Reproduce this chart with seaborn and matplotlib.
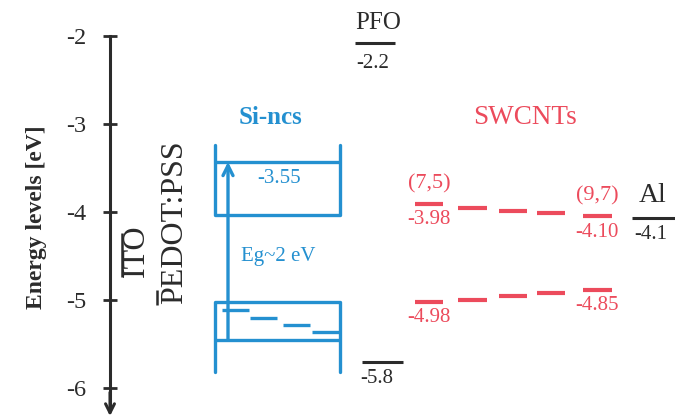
import numpy as np
import matplotlib
matplotlib.use("Agg")
import matplotlib.pyplot as plt
import seaborn as sns

# energy levels (eV): drawn positions and printed labels
axis_ticks = [-2, -3, -4, -5, -6]

pfo_level, pfo_label = -2.08, "-2.2"
hole_level, hole_label = -5.70, "-5.8"
al_level, al_label = -4.07, "-4.1"

si_top_open = -3.24
si_cb_edge = -3.43
si_cb_floor = -4.03
si_vb_roof = -5.02
si_vb_edge = -5.45
si_bottom_open = -5.82
si_states = [-5.11, -5.20, -5.28, -5.36]
si_cb_label = "-3.55"
si_gap_label = "Eg~2 eV"

swcnt_lumo = [-3.91, -3.95, -3.99, -4.01, -4.05]
swcnt_homo = [-5.02, -5.00, -4.95, -4.92, -4.89]
swcnt_lumo_labels = ["-3.98", "-4.10"]
swcnt_homo_labels = ["-4.98", "-4.85"]
swcnt_chirality = ["(7,5)", "(9,7)"]

ito_span = [-4.24, -4.74]
pedot_span = [-4.89, -5.06]

BLUE = "#2490d0"
RED = "#ec4b5c"
DARK = "#2b2b2b"
SERIF = ["Liberation Serif", "DejaVu Serif"]

sns.set_theme(style="white")
plt.rcParams["font.family"] = SERIF

fig = plt.figure(figsize=(6.75, 4.17), dpi=100)
ax = fig.add_axes([0, 0, 1, 1])
ax.set_xlim(0, 675)
ax.set_ylim(-6.33, -1.59)

# energy axis
for s in ["top", "right", "bottom"]:
    ax.spines[s].set_visible(False)
ax.spines["left"].set_position(("data", 110))
ax.spines["left"].set_bounds(-6.2, -2)
ax.spines["left"].set_linewidth(2.2)
ax.spines["left"].set_color(DARK)
ax.set_xticks([])
ax.set_yticks(axis_ticks)
ax.set_yticklabels([str(t) for t in axis_ticks])
ax.tick_params(axis="y", direction="inout", length=10, width=2, colors=DARK,
               labelsize=17.5, labelfontfamily="Liberation Serif", pad=12, left=True)
ax.annotate("", xy=(110, -6.32), xytext=(110, -6.05),
            arrowprops=dict(arrowstyle="->", lw=2.2, color=DARK,
                            mutation_scale=16, shrinkA=0, shrinkB=0))
ax.set_ylabel("Energy levels [eV]", fontsize=17, fontweight="bold", color=DARK)
ax.yaxis.set_label_coords(0.07, 0.48)

# ITO and PEDOT:PSS
ax.vlines(122, ito_span[1], ito_span[0], color=DARK, lw=1.8)
ax.text(136, ito_span[1], "ITO", rotation=90, ha="center", va="bottom",
        fontsize=23, color=DARK)
ax.vlines(157, pedot_span[1], pedot_span[0], color=DARK, lw=1.8)
ax.text(175, pedot_span[1] + 0.02, "PEDOT:PSS", rotation=90, ha="center",
        va="bottom", fontsize=23, color=DARK)

# PFO and the lower black level
ax.hlines(pfo_level, 355, 395, color=DARK, lw=2.2)
ax.text(378, pfo_level + 0.1, "PFO", ha="center", va="bottom", fontsize=18, color=DARK)
ax.text(373, pfo_level - 0.12, pfo_label, ha="center", va="top", fontsize=15, color=DARK)
ax.hlines(hole_level, 362, 403, color=DARK, lw=2.2)
ax.text(377, hole_level - 0.08, hole_label, ha="center", va="top", fontsize=15, color=DARK)

# Si nanocrystals
xl, xr = 215, 340
ax.plot([xl, xl, xr, xr], [si_top_open, si_cb_floor, si_cb_floor, si_top_open],
        color=BLUE, lw=2.4, solid_joinstyle="round")
ax.hlines(si_cb_edge, xl, xr, color=BLUE, lw=2.4)
ax.plot([xl, xl, xr, xr], [si_bottom_open, si_vb_roof, si_vb_roof, si_bottom_open],
        color=BLUE, lw=2.4, solid_joinstyle="round")
ax.hlines(si_vb_edge, xl, xr, color=BLUE, lw=2.4)
state_x = [222, 250, 283, 312]
for x0, e in zip(state_x, si_states):
    ax.hlines(e, x0, x0 + 27, color=BLUE, lw=2.4)
ax.annotate("", xy=(228, si_cb_edge), xytext=(228, si_vb_edge),
            arrowprops=dict(arrowstyle="->", lw=2.4, color=BLUE,
                            mutation_scale=18, shrinkA=0, shrinkB=0))
ax.text(279, -3.62, si_cb_label, ha="center", va="center", fontsize=15, color=BLUE)
ax.text(278, -4.51, si_gap_label, ha="center", va="center", fontsize=15, color=BLUE)
ax.text(270, -2.93, "Si-ncs", ha="center", va="center", fontsize=18,
        fontweight="bold", color=BLUE)

# SWCNTs
dash_x = [415, 458, 499, 537, 583]
dash_w = [28, 29, 28, 28, 29]
for x0, w, e in zip(dash_x, dash_w, swcnt_lumo):
    ax.hlines(e, x0, x0 + w, color=RED, lw=3)
for x0, w, e in zip(dash_x, dash_w, swcnt_homo):
    ax.hlines(e, x0, x0 + w, color=RED, lw=3)
end_x = [429, 597]
for i, x in enumerate(end_x):
    j = 0 if i == 0 else -1
    ax.text(x, swcnt_lumo[j] + 0.12, swcnt_chirality[i], ha="center", va="bottom",
            fontsize=16, color=RED)
    ax.text(x, swcnt_lumo[j] - 0.07, swcnt_lumo_labels[i], ha="center", va="top",
            fontsize=15, color=RED)
    ax.text(x, swcnt_homo[j] - 0.07, swcnt_homo_labels[i], ha="center", va="top",
            fontsize=15, color=RED)
ax.text(525, -2.92, "SWCNTs", ha="center", va="center", fontsize=19.5, color=RED)

# Al cathode
ax.hlines(al_level, 632, 680, color=DARK, lw=2.2)
ax.text(653, al_level + 0.12, "Al", ha="center", va="bottom", fontsize=20, color=DARK)
ax.text(651, al_level - 0.08, al_label, ha="center", va="top", fontsize=15, color=DARK)

fig.savefig("out.png", dpi=100)
